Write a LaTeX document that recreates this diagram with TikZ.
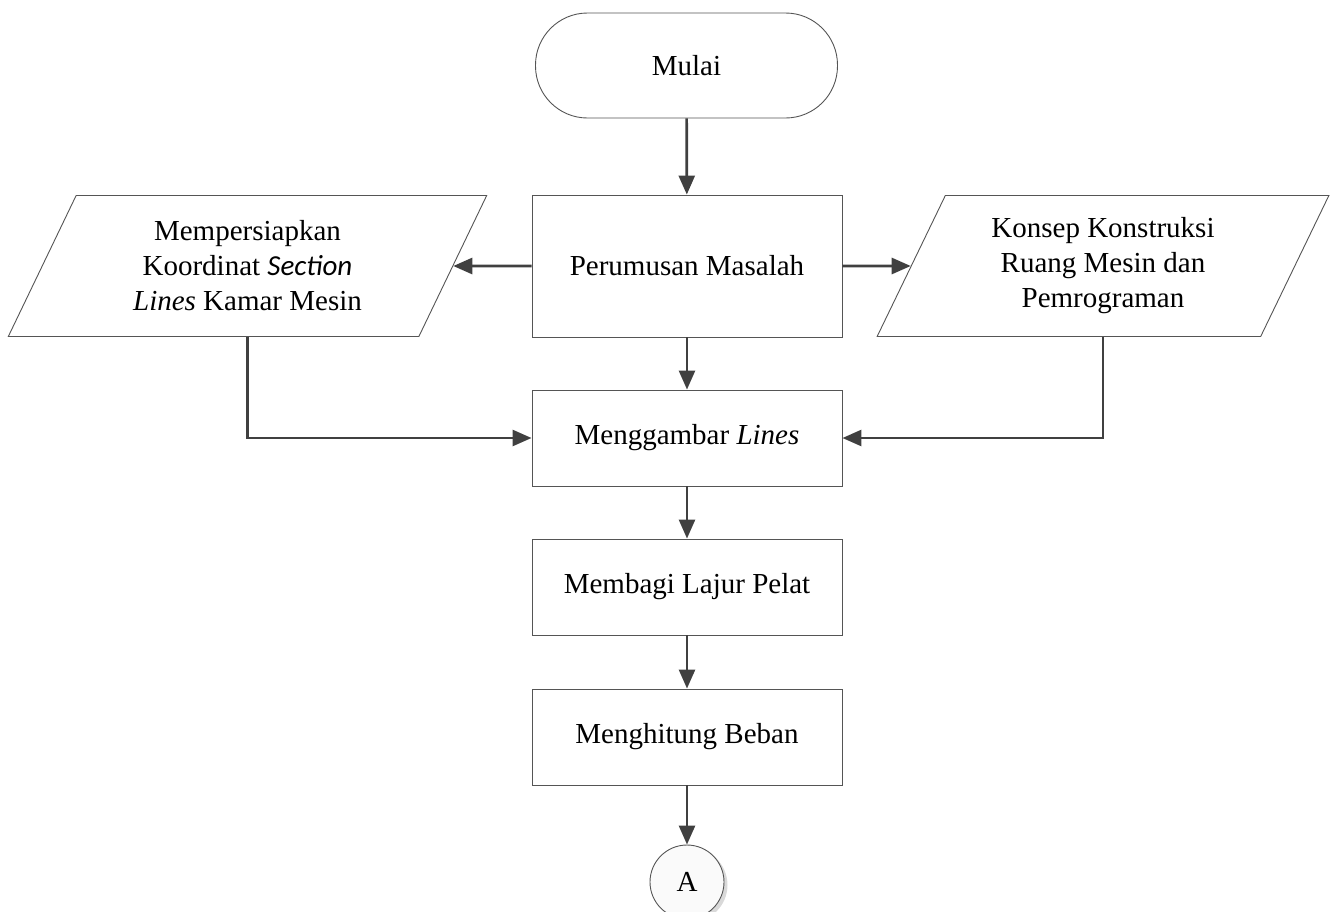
\documentclass[tikz,border=0pt]{standalone}
\usepackage{fontspec}
\setmainfont{Liberation Serif}
\newfontfamily\secfont{Carlito}
\usetikzlibrary{arrows.meta,shapes.geometric,shadows}
\definecolor{edgegray}{HTML}{555555}
\definecolor{linegray}{HTML}{404040}
\tikzset{
  base/.style={draw=edgegray, line width=0.9pt, inner sep=0pt, align=center,
    font=\fontsize{29}{35}\selectfont, fill=white},
  procbox/.style={base, rectangle, minimum width=310pt},
  terminal/.style={base, rectangle, rounded corners=52pt, minimum width=302pt, minimum height=105pt},
  iobox/.style={base, trapezium, trapezium left angle=63.4, trapezium right angle=116.6,
    trapezium stretches=true, minimum height=141pt},
  connector/.style={base, circle, minimum size=74pt, fill=gray!4,
    drop shadow={opacity=0.3, shadow xshift=3.5pt, shadow yshift=-3pt}},
  arr/.style={draw=linegray, line width=2.7pt, -{Triangle[length=19pt,width=16pt]}},
}
\begin{document}
\begin{tikzpicture}[x=1pt,y=-1pt]
\useasboundingbox (0,0) rectangle (1331,911);
\node[terminal] (M) at (686.5,65.5) {Mulai};
\node[procbox, minimum height=142pt] (P) at (687,266) {Perumusan Masalah};
\node[iobox, minimum width=479pt] (L) at (247.5,266) {Mempersiapkan\\Koordinat {\secfont\itshape Section}\\\textit{Lines} Kamar Mesin};
\node[iobox, minimum width=454pt] (R) at (1103,266) {Konsep Konstruksi\\Ruang Mesin dan\\Pemrograman};
\node[procbox, minimum height=96pt] (G) at (687,438) {Menggambar \textit{Lines}};
\node[procbox, minimum height=96pt] (B) at (687,587) {Membagi Lajur Pelat};
\node[procbox, minimum height=96pt] (H) at (687,737) {Menghitung Beban};
\node[connector] (A) at (687,882) {A};
\draw[arr] (M) -- (P);
\draw[arr] (P) -- (L);
\draw[arr] (P) -- (R);
\draw[arr] (P) -- (G);
\draw[arr] (L.south) |- (G);
\draw[arr] (R.south) |- (G);
\draw[arr] (G) -- (B);
\draw[arr] (B) -- (H);
\draw[arr] (H) -- (A);
\end{tikzpicture}
\end{document}
